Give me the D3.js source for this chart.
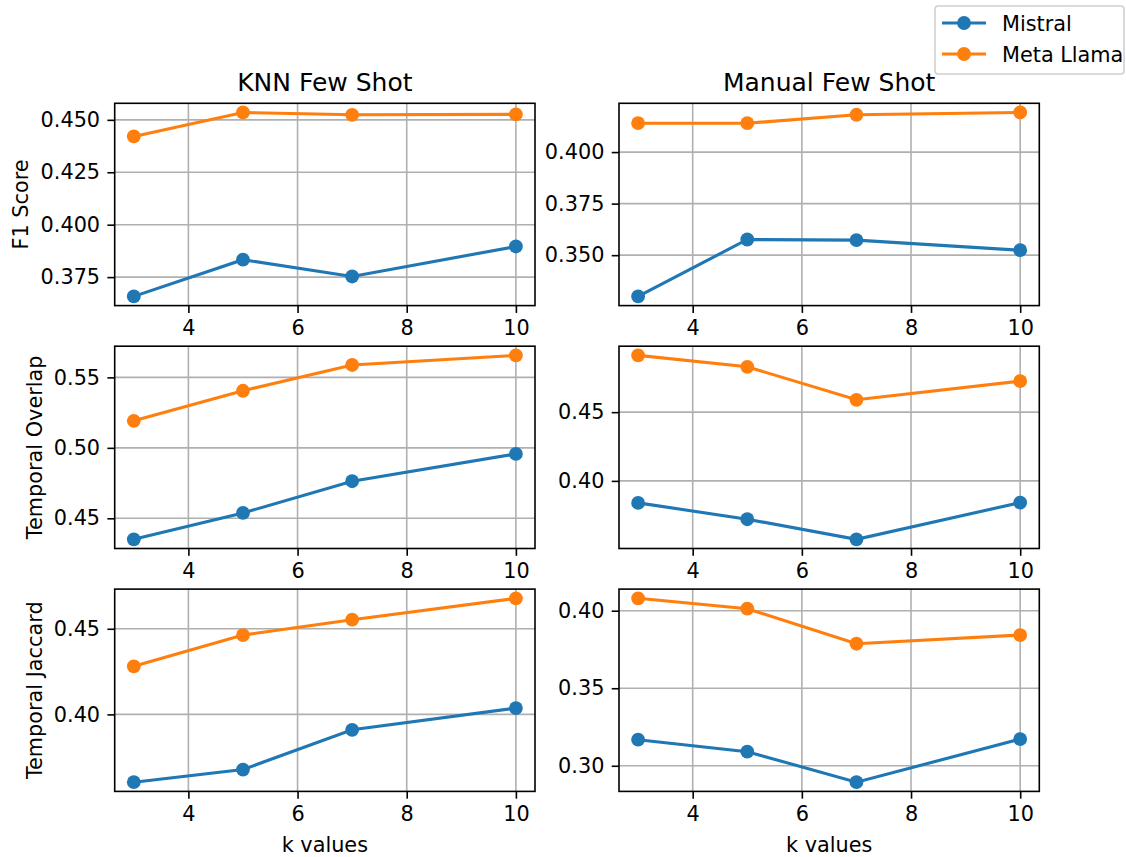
<!DOCTYPE html>
<html>
<head>
<meta charset="utf-8">
<script src="https://cdn.jsdelivr.net/npm/d3@7"></script>
<style>
    body { margin: 0; background: #fff; }
    svg text { font-family: 'DejaVu Sans', sans-serif; fill: #000; }
</style>
</head>
<body>
<div id="chart"></div>
<script>
// shared categories / labels
const kValues = [3, 5, 7, 10];
const modelNames = ['Mistral', 'Meta Llama'];
const modelColors = ['#1f77b4', '#ff7f0e'];
const columnTitles = ['KNN Few Shot', 'Manual Few Shot'];
const rowLabels = ['F1 Score', 'Temporal Overlap', 'Temporal Jaccard'];
const xTicks = [4, 6, 8, 10];

// KNN few shot values
const knnF1Mistral = [0.3658, 0.3833, 0.3753, 0.3896];
const knnF1Llama = [0.4421, 0.4535, 0.4524, 0.4526];
const knnOverlapMistral = [0.4351, 0.4538, 0.4763, 0.4957];
const knnOverlapLlama = [0.5192, 0.5405, 0.5588, 0.5656];
const knnJaccardMistral = [0.3604, 0.3678, 0.3910, 0.4037];
const knnJaccardLlama = [0.4281, 0.4463, 0.4553, 0.4678];

// Manual few shot values
const manualF1Mistral = [0.3300, 0.3576, 0.3573, 0.3524];
const manualF1Llama = [0.4140, 0.4140, 0.4181, 0.4192];
const manualOverlapMistral = [0.3840, 0.3721, 0.3575, 0.3842];
const manualOverlapLlama = [0.4913, 0.4830, 0.4590, 0.4726];
const manualJaccardMistral = [0.3168, 0.3091, 0.2894, 0.3172];
const manualJaccardLlama = [0.4080, 0.4013, 0.3787, 0.3843];

// y tick labels per panel
const knnF1Ticks = [0.375, 0.400, 0.425, 0.450];
const manualF1Ticks = [0.350, 0.375, 0.400];
const knnOverlapTicks = [0.45, 0.50, 0.55];
const manualOverlapTicks = [0.40, 0.45];
const knnJaccardTicks = [0.40, 0.45];
const manualJaccardTicks = [0.30, 0.35, 0.40];

class LinePanel {
    // @param {Object} config
    // @param {Array} series - one array of values per model
    // @param {Array} yTicks
    constructor(_config, _series, _yTicks) {
        this.config = {
            parent: _config.parent,
            left: _config.left,
            top: _config.top,
            width: _config.width || 420.3,
            height: _config.height || 202.3,
            title: _config.title || null,
            yLabel: _config.yLabel || null,
            xLabel: _config.xLabel || null,
            yFormat: _config.yFormat || '.2f',
            tickSize: 7.3,
            tickPad: 7.3,
            fontSize: 20.8,
            markerRadius: 6.9
        };
        this.series = _series;
        this.yTicks = _yTicks;
        this.initVis();
    }

    initVis() {
        let vis = this;
        const c = vis.config;

        vis.chart = c.parent.append('g')
            .attr('transform', `translate(${c.left},${c.top})`);

        // matplotlib style 5% margins
        const xExt = d3.extent(kValues);
        const xPad = (xExt[1] - xExt[0]) * 0.05;
        vis.xScale = d3.scaleLinear()
            .domain([xExt[0] - xPad, xExt[1] + xPad])
            .range([0, c.width]);

        const yExt = d3.extent(vis.series.flat());
        const yPad = (yExt[1] - yExt[0]) * 0.05;
        vis.yScale = d3.scaleLinear()
            .domain([yExt[0] - yPad, yExt[1] + yPad])
            .range([c.height, 0]);

        vis.renderVis();
    }

    renderVis() {
        let vis = this;
        const c = vis.config;

        // grid
        vis.chart.append('g').selectAll('.vgrid')
            .data(xTicks)
            .join('line')
            .attr('class', 'vgrid')
            .attr('x1', d => vis.xScale(d)).attr('x2', d => vis.xScale(d))
            .attr('y1', 0).attr('y2', c.height)
            .attr('stroke', '#b0b0b0').attr('stroke-width', 1.6);
        vis.chart.append('g').selectAll('.hgrid')
            .data(vis.yTicks)
            .join('line')
            .attr('class', 'hgrid')
            .attr('x1', 0).attr('x2', c.width)
            .attr('y1', d => vis.yScale(d)).attr('y2', d => vis.yScale(d))
            .attr('stroke', '#b0b0b0').attr('stroke-width', 1.6);

        // axes
        const xAxis = d3.axisBottom(vis.xScale)
            .tickValues(xTicks)
            .tickSize(c.tickSize)
            .tickPadding(c.tickPad)
            .tickFormat(d3.format('d'));
        const yAxis = d3.axisLeft(vis.yScale)
            .tickValues(vis.yTicks)
            .tickSize(c.tickSize)
            .tickPadding(c.tickPad)
            .tickFormat(d3.format(c.yFormat));

        const xG = vis.chart.append('g')
            .attr('transform', `translate(0,${c.height})`)
            .call(xAxis);
        const yG = vis.chart.append('g').call(yAxis);
        [xG, yG].forEach(g => {
            g.attr('font-size', c.fontSize).attr('font-family', "'DejaVu Sans', sans-serif");
            g.select('.domain').remove();
            g.selectAll('.tick line').attr('stroke', '#000').attr('stroke-width', 1.6);
            g.selectAll('.tick text').attr('fill', '#000');
        });

        // lines + markers
        const line = d3.line()
            .x((d, i) => vis.xScale(kValues[i]))
            .y(d => vis.yScale(d));

        vis.series.forEach((vals, si) => {
            vis.chart.append('path')
                .datum(vals)
                .attr('d', line)
                .attr('fill', 'none')
                .attr('stroke', modelColors[si])
                .attr('stroke-width', 3.1);
            vis.chart.append('g').selectAll('circle')
                .data(vals)
                .join('circle')
                .attr('cx', (d, i) => vis.xScale(kValues[i]))
                .attr('cy', d => vis.yScale(d))
                .attr('r', c.markerRadius)
                .attr('fill', modelColors[si]);
        });

        // frame
        vis.chart.append('rect')
            .attr('width', c.width)
            .attr('height', c.height)
            .attr('fill', 'none')
            .attr('stroke', '#000')
            .attr('stroke-width', 1.6);

        if (c.title) {
            vis.chart.append('text')
                .attr('x', c.width / 2)
                .attr('y', -12)
                .attr('text-anchor', 'middle')
                .attr('font-size', 25)
                .text(c.title);
        }

        if (c.yLabel) {
            // place left of the widest tick label
            let minX = 0;
            yG.selectAll('.tick text').each(function () {
                const b = this.getBBox();
                minX = Math.min(minX, b.x);
            });
            const lx = minX - 8.3 - 3.9;
            vis.chart.append('text')
                .attr('transform', `translate(${lx},${c.height / 2}) rotate(-90)`)
                .attr('text-anchor', 'middle')
                .attr('font-size', c.fontSize)
                .text(c.yLabel);
        }

        if (c.xLabel) {
            vis.chart.append('text')
                .attr('x', c.width / 2)
                .attr('y', c.height + 61)
                .attr('text-anchor', 'middle')
                .attr('font-size', c.fontSize)
                .text(c.xLabel);
        }
    }
}

const svg = d3.select('#chart').append('svg')
    .attr('width', 1126)
    .attr('height', 857);

const colLefts = [114.7, 619];
const rowTops = [103.3, 346.2, 589.1];

const panels = [
    [[knnF1Mistral, knnF1Llama], knnF1Ticks, '.3f', [manualF1Mistral, manualF1Llama], manualF1Ticks, '.3f'],
    [[knnOverlapMistral, knnOverlapLlama], knnOverlapTicks, '.2f', [manualOverlapMistral, manualOverlapLlama], manualOverlapTicks, '.2f'],
    [[knnJaccardMistral, knnJaccardLlama], knnJaccardTicks, '.2f', [manualJaccardMistral, manualJaccardLlama], manualJaccardTicks, '.2f']
];

panels.forEach((p, r) => {
    new LinePanel({
        parent: svg, left: colLefts[0], top: rowTops[r],
        title: r === 0 ? columnTitles[0] : null,
        yLabel: rowLabels[r],
        xLabel: r === 2 ? 'k values' : null,
        yFormat: p[2]
    }, p[0], p[1]);
    new LinePanel({
        parent: svg, left: colLefts[1], top: rowTops[r],
        title: r === 0 ? columnTitles[1] : null,
        xLabel: r === 2 ? 'k values' : null,
        yFormat: p[5]
    }, p[3], p[4]);
});

// figure legend, top right
const legend = svg.append('g').attr('transform', 'translate(935,6)');
legend.append('rect')
    .attr('width', 189)
    .attr('height', 68)
    .attr('rx', 3)
    .attr('fill', '#fff')
    .attr('fill-opacity', 0.8)
    .attr('stroke', '#d0d0d0')
    .attr('stroke-width', 1.6);
const items = legend.selectAll('.legend-item')
    .data(modelNames)
    .join('g')
    .attr('class', 'legend-item')
    .attr('transform', (d, i) => `translate(0,${17 + i * 31})`);
items.append('line')
    .attr('x1', 7).attr('x2', 51)
    .attr('stroke', (d, i) => modelColors[i])
    .attr('stroke-width', 3.1);
items.append('circle')
    .attr('cx', 29)
    .attr('r', 6.9)
    .attr('fill', (d, i) => modelColors[i]);
items.append('text')
    .attr('x', 67)
    .attr('y', 7.5)
    .attr('font-size', 20.8)
    .text(d => d);
</script>
</body>
</html>
